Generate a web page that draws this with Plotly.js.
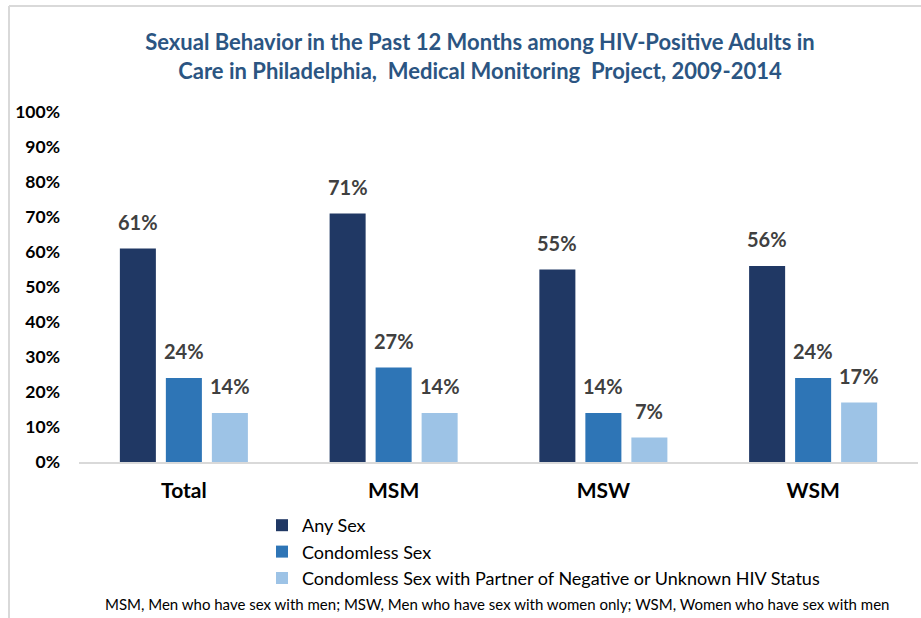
<!DOCTYPE html>
<html>
<head>
<meta charset="utf-8">
<script src="https://cdn.plot.ly/plotly-3.0.1.min.js"></script>
<style>
  html, body { margin: 0; padding: 0; background: #fff; }
  #chart { width: 921px; height: 618px; }
</style>
</head>
<body>
<div id="chart"></div>
<script>
const categories = ["Total", "MSM", "MSW", "WSM"];
const seriesNames = ["Any Sex", "Condomless Sex", "Condomless Sex with Partner of Negative or Unknown HIV Status"];
const anySex = [61, 71, 55, 56];
const condomless = [24, 27, 14, 24];
const condomlessNeg = [14, 14, 7, 17];
const yTickVals = [0, 10, 20, 30, 40, 50, 60, 70, 80, 90, 100];
const yTickText = ["0%", "10%", "20%", "30%", "40%", "50%", "60%", "70%", "80%", "90%", "100%"];
const titleText = "Sexual Behavior in the Past 12 Months among HIV-Positive Adults in<br>Care in Philadelphia,  Medical Monitoring  Project, 2009-2014";
const footnote = "MSM, Men who have sex with men; MSW, Men who have sex with women only; WSM, Women who have sex with men";

const colors = ["#203864", "#2E75B6", "#9DC3E6"];
const allSeries = [anySex, condomless, condomlessNeg];
const FONT = "Lato, 'Open Sans', sans-serif";

const traces = allSeries.map((vals, i) => ({
  type: "bar",
  name: seriesNames[i],
  x: categories,
  y: vals,
  marker: { color: colors[i] },
  hoverinfo: "none"
}));

const annotations = [];
allSeries.forEach((vals, i) => {
  vals.forEach((v, j) => {
    annotations.push({
      x: categories[j], y: v, xref: "x", yref: "y",
      text: v + "%", showarrow: false,
      xanchor: "center", yanchor: "bottom",
      xshift: (i - 1) * 46, yshift: 13,
      font: { family: FONT, size: 20, color: "#404040", weight: "bold" }
    });
  });
});
annotations.push({
  xref: "paper", yref: "paper", x: (497 - 79) / 839, y: (462 - 604) / 350,
  xanchor: "center", yanchor: "middle", showarrow: false,
  text: footnote, font: { family: FONT, size: 15, color: "#000" }
});

const layout = {
  width: 921, height: 618,
  margin: { l: 79, r: 3, t: 112, b: 156 },
  paper_bgcolor: "#fff", plot_bgcolor: "#fff",
  title: {
    text: titleText,
    font: { family: FONT, size: 22, color: "#2B5582", weight: "bold" },
    x: 480 / 921, xref: "container", xanchor: "center",
    y: 1 - 50 / 618, yref: "container", yanchor: "middle"
  },
  barmode: "group",
  bargap: 0.342,
  bargroupgap: 0.217,
  xaxis: {
    showgrid: false, zeroline: false,
    showline: true, linecolor: "#d9d9d9", linewidth: 2,
    ticks: "", ticklabelstandoff: 9,
    tickfont: { family: FONT, size: 21, color: "#000", weight: "bold" }
  },
  yaxis: {
    range: [0, 100], showgrid: false, zeroline: false, showline: false,
    tickvals: yTickVals, ticktext: yTickText, ticks: "",
    ticklabelstandoff: 18,
    tickfont: { family: FONT, size: 17.5, color: "#000", weight: "bold" }
  },
  showlegend: true,
  legend: {
    orientation: "v",
    x: (262 - 79) / 839, xanchor: "left",
    y: (462 - 507) / 350, yanchor: "top",
    font: { family: FONT, size: 18, color: "#000" },
    bgcolor: "rgba(0,0,0,0)",
    tracegroupgap: 0
  },
  annotations: annotations,
  shapes: [
    { type: "line", xref: "paper", yref: "paper",
      x0: (9 - 79) / 839, x1: (921 - 79) / 839,
      y0: (462 - 6) / 350, y1: (462 - 6) / 350,
      line: { color: "#d9d9d9", width: 2 } },
    { type: "line", xref: "paper", yref: "paper",
      x0: (9 - 79) / 839, x1: (9 - 79) / 839,
      y0: (462 - 6) / 350, y1: (462 - 620) / 350,
      line: { color: "#d9d9d9", width: 2 } }
  ]
};

Plotly.newPlot("chart", traces, layout, { displayModeBar: false, staticPlot: true });
</script>
</body>
</html>
